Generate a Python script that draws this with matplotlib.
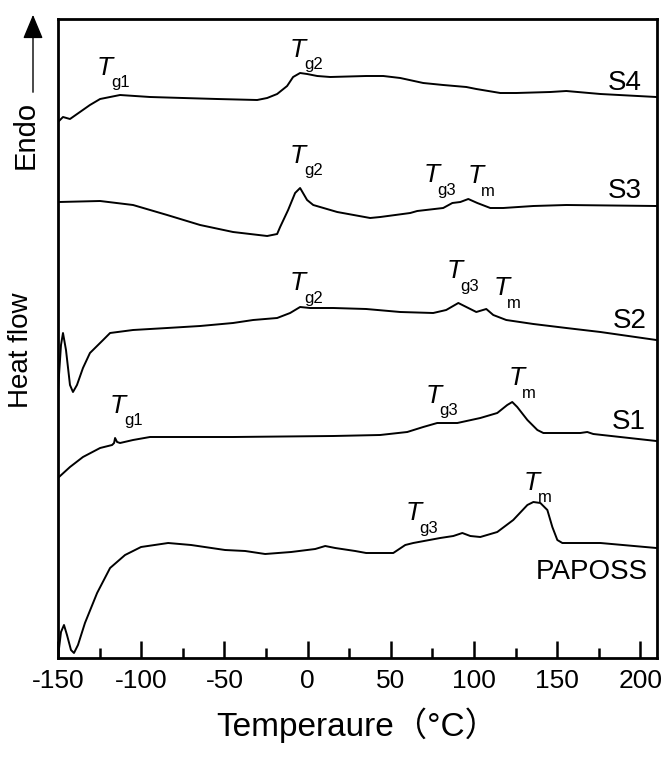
import numpy as np
import matplotlib
matplotlib.use('Agg')
import matplotlib.pyplot as plt
from matplotlib.patches import FancyArrowPatch
from matplotlib.ticker import MultipleLocator

plt.rcParams['font.family'] = ['Liberation Sans', 'DejaVu Sans']
plt.rcParams['axes.unicode_minus'] = False

# DSC traces (temperature in degC, heat flow in arbitrary units, offset per sample)
s4_temp = [-150, -147.0, -142.8, -136.8, -130.8, -124.7, -118.7, -112.7, -94.7, -74.8, -54.4, -30.3,
           -24.3, -18.3, -12.3, -8.7, -4.5, -0.3, 5.8, 13.6, 35.2, 45.5, 55.7, 69.5, 81.5, 95.4,
           101.4, 115.8, 125.4, 145.9, 155.5, 176.0, 209.6]
s4_flow = [536, 541, 539, 546, 553, 559, 561, 563, 561, 560, 559, 558,
           560, 564, 572, 581, 585, 584, 582, 581, 582, 582, 580, 575, 573, 571,
           569, 565, 565, 566, 567, 564, 561]

s3_temp = [-149.4, -124.7, -104.9, -84.4, -64.6, -44.8, -24.3, -18.3, -16.5, -11.7, -7.5, -4.5,
           -0.3, 3.4, 17.8, 37.6, 43.7, 61.7, 65.9, 81.5, 87.0, 91.8, 96.6, 102.0, 109.8, 117.6,
           135.7, 155.5, 209.6]
s3_flow = [456, 457, 453, 443, 433, 426, 422, 424, 431, 448, 465, 470,
           458, 453, 446, 440, 441, 445, 447, 450, 455, 456, 459, 455, 450, 450,
           452, 453, 452]

s2_temp = [-150, -148.2, -147.0, -145.2, -142.8, -141.0, -138.6, -135.0, -130.8, -122.9, -118.7,
           -104.9, -84.4, -64.6, -44.8, -32.7, -18.3, -10.5, -4.5, 1.5, 15.4, 35.2, 55.7, 75.5,
           83.3, 90.6, 95.4, 101.4, 107.4, 111.6, 119.4, 135.7, 155.5, 176.0, 209.6]
s2_flow = [268, 313, 325, 308, 273, 266, 273, 290, 305, 318, 325,
           328, 330, 332, 335, 338, 340, 345, 351, 350, 350, 349, 346, 345,
           348, 355, 351, 346, 349, 343, 338, 334, 330, 326, 318]

s1_temp = [-149.4, -142.8, -135.0, -124.7, -117.5, -116.3, -115.7, -114.5, -112.7, -104.9, -94.7,
           -44.8, 15.4, 43.6, 59.9, 69.5, 77.9, 90.0, 103.8, 114.0, 120.0, 123.0, 126.0, 132.1,
           138.1, 141.7, 163.9, 168.1, 171.7, 209.6]
s1_flow = [181, 191, 201, 210, 213, 215, 220, 216, 215, 218, 221,
           221, 222, 223, 226, 231, 235, 235, 240, 245, 253, 256, 251, 238,
           228, 225, 225, 226, 224, 217]

paposs_temp = [-150, -148.2, -146.4, -144.6, -142.2, -140.4, -138.0, -133.8, -126.5, -118.7, -109.7,
               -100.1, -83.8, -70.0, -49.6, -37.5, -25.5, -9.9, 4.6, 10.6, 16.6, 28.6, 35.2, 43.6,
               51.5, 58.7, 63.5, 79.7, 87.6, 93.0, 97.8, 103.8, 114.0, 123.6, 132.1, 135.7, 139.9,
               144.1, 147.1, 150.1, 153.1, 176.0, 209.6]
paposs_flow = [1, 26, 33, 23, 8, 5, 13, 35, 65, 90, 103,
               111, 115, 113, 108, 107, 104, 106, 109, 112, 110, 107, 105, 105,
               105, 113, 115, 120, 122, 125, 122, 121, 126, 138, 153, 156, 155,
               148, 131, 118, 115, 115, 110]

sample_names = ['S4', 'S3', 'S2', 'S1', 'PAPOSS']
name_pos = [(200.6, 575), (200.6, 467), (203.6, 337), (203.0, 236), (204.8, 86)]

# transition labels: (subscript, temperature, heat-flow baseline of the T)
transitions = [
    ('g1', -126.5, 583), ('g2', -10.5, 601),
    ('g2', -10.5, 495), ('g3', 69.5, 476), ('m', 96.0, 475),
    ('g2', -10.5, 368), ('g3', 83.3, 380), ('m', 111.6, 363),
    ('g1', -118.7, 245), ('g3', 70.7, 255), ('m', 120.6, 273),
    ('g3', 58.7, 138), ('m', 130.0, 168),
]

fig = plt.figure(figsize=(6.66, 7.57), dpi=100)
ax = fig.add_axes([58 / 666, 1 - 658 / 757, 599 / 666, 639 / 757])

for t, f in [(s4_temp, s4_flow), (s3_temp, s3_flow), (s2_temp, s2_flow),
             (s1_temp, s1_flow), (paposs_temp, paposs_flow)]:
    ax.plot(t, f, color='black', linewidth=1.4, solid_joinstyle='round')

for name, (x, y) in zip(sample_names, name_pos):
    ax.text(x, y, name, ha='right', va='center', fontsize=20)

for sub, x, y in transitions:
    ax.text(x, y, 'T', ha='left', va='baseline', fontsize=19, style='italic')
    ax.annotate(sub, xy=(x, y), xytext=(10, -9), textcoords='offset points',
                ha='left', va='baseline', fontsize=12)

ax.set_xlim(-150, 210)
ax.set_ylim(0, 639)
ax.xaxis.set_major_locator(MultipleLocator(50))
ax.xaxis.set_minor_locator(MultipleLocator(25))
ax.tick_params(axis='x', which='major', direction='in', length=12, width=1.8,
               labelsize=19, pad=8, top=False)
ax.tick_params(axis='x', which='minor', direction='in', length=7, width=1.8, top=False)
ax.set_yticks([])
for spine in ax.spines.values():
    spine.set_linewidth(2)

ax.set_xlabel('Temperaure（°C）', fontsize=24, labelpad=10,
              family=['Liberation Sans', 'Noto Sans CJK SC'])

fig.text(40 / 666, 1 - 135 / 757, 'Endo', rotation=90, ha='right', va='center', fontsize=21)
fig.text(34 / 666, 1 - 350 / 757, 'Heat flow', rotation=90, ha='right', va='center', fontsize=20)
fig.add_artist(FancyArrowPatch(
    (33 / 666, 1 - 95 / 757), (33 / 666, 1 - 12 / 757), transform=fig.transFigure,
    arrowstyle='-|>,head_length=6,head_width=2.5', color='black', linewidth=1, mutation_scale=2.5))

fig.savefig('out.png', dpi=100)
